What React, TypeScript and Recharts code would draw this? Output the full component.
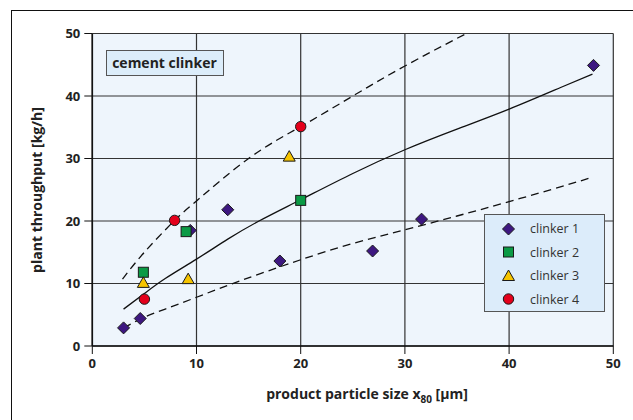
import {
  CartesianGrid, ComposedChart, Label, Line, Scatter, XAxis, YAxis,
} from 'recharts'

// measured points
const clinker1X = [3, 4.6, 9.4, 13, 18, 26.9, 31.6, 48.1]
const clinker1Y = [2.9, 4.4, 18.5, 21.8, 13.6, 15.2, 20.3, 44.9]
const clinker2X = [4.9, 9, 20]
const clinker2Y = [11.8, 18.3, 23.3]
const clinker3X = [4.9, 9.2, 18.9]
const clinker3Y = [10.1, 10.7, 30.3]
const clinker4X = [5, 7.9, 20]
const clinker4Y = [7.5, 20.1, 35.1]

// fitted curves
const meanX = [3, 5, 7, 10, 13, 16, 20, 25, 30, 35, 40, 45, 48]
const meanY = [5.9, 8.4, 10.8, 13.9, 17.1, 20.0, 23.4, 27.6, 31.4, 34.7, 37.9, 41.4, 43.5]
const upperX = [2.9, 5, 7.9, 10, 15, 20, 25, 30, 35.9]
const upperY = [10.7, 15, 20.1, 23.2, 30.0, 35.1, 40.0, 44.8, 50]
const lowerX = [3, 5, 7, 10, 13, 16, 20, 25, 30, 35, 40, 45, 47.8]
const lowerY = [2.9, 4.6, 5.9, 7.8, 9.7, 11.5, 13.8, 16.4, 18.6, 20.8, 23.1, 25.5, 26.9]

const ticks = [0, 10, 20, 30, 40, 50]
const seriesNames = ['clinker 1', 'clinker 2', 'clinker 3', 'clinker 4']

const zip = (xs: number[], ys: number[]) => xs.map((x, i) => ({ x, y: ys[i] }))

const FONT = '"Open Sans", "Noto Sans", sans-serif'

const COLORS: Record<string, string> = {
  diamond: '#3d1780',
  square: '#0b9a45',
  triangle: '#f6c400',
  circle: '#e4001b',
}

function Symbol({ kind, cx, cy }: { kind: string; cx: number; cy: number }) {
  const fill = COLORS[kind]
  const st = { fill, stroke: '#1a1a1a', strokeWidth: 1 }
  if (kind === 'diamond') {
    const r = 6
    return <polygon points={`${cx},${cy - r} ${cx + r},${cy} ${cx},${cy + r} ${cx - r},${cy}`} {...st} />
  }
  if (kind === 'square') return <rect x={cx - 5} y={cy - 5} width={10} height={10} {...st} />
  if (kind === 'triangle') {
    return <polygon points={`${cx},${cy - 6} ${cx + 6},${cy + 4.5} ${cx - 6},${cy + 4.5}`} {...st} />
  }
  return <circle cx={cx} cy={cy} r={5.2} {...st} />
}

const shapeOf = (kind: string) => (p: any) => <Symbol kind={kind} cx={p.cx} cy={p.cy} />

const kinds = ['diamond', 'square', 'triangle', 'circle']

function LegendBox() {
  return (
    <div style={{
      position: 'absolute', left: 484, top: 214, width: 121, height: 98,
      background: '#dcecfa', border: '1px solid #555',
      boxSizing: 'border-box', paddingTop: 2,
    }}>
      {seriesNames.map((n, i) => (
        <div key={n} style={{ display: 'flex', alignItems: 'center', height: 23.5 }}>
          <svg width={45} height={20}>
            <Symbol kind={kinds[i]} cx={23.5} cy={10} />
          </svg>
          <span style={{ fontFamily: FONT, fontSize: 12.5, color: '#333' }}>{n}</span>
        </div>
      ))}
    </div>
  )
}

export default function App() {
  return (
    <div style={{ position: 'absolute', left: 0, top: 0, width: 633, height: 420, overflow: 'hidden', background: '#fff' }}>
      <div style={{
        position: 'absolute', left: 10.5, top: 9.5, width: 700, height: 500,
        border: '1.5px solid #111',
      }} />
      <ComposedChart
        width={633} height={420}
        margin={{ top: 33.5, right: 19.7, left: 32.3, bottom: 0 }}
        style={{ position: 'absolute', left: 0, top: 0 }}
      >
        <CartesianGrid stroke="#333" strokeWidth={1.2} fill="#eef5fc" fillOpacity={1} />
        <XAxis
          type="number" dataKey="x" domain={[0, 50]} ticks={ticks}
          height={74} tickSize={8} tickMargin={5} allowDataOverflow
          axisLine={{ stroke: '#111', strokeWidth: 1.6 }} tickLine={{ stroke: '#111' }}
          tick={{ fontFamily: FONT, fontSize: 13, fontWeight: 700, fill: '#222' }}
        >
          <Label content={() => (
            <text x={367} y={399} textAnchor="middle" fontFamily={FONT} fontSize={14} fontWeight={700} fill="#222">
              product particle size x<tspan fontSize={10} dy={4}>80</tspan><tspan dy={-4}> [µm]</tspan>
            </text>
          )} />
        </XAxis>
        <YAxis
          type="number" dataKey="y" domain={[0, 50]} ticks={ticks}
          width={60} tickSize={8} tickMargin={4} allowDataOverflow
          axisLine={{ stroke: '#111', strokeWidth: 1.6 }} tickLine={{ stroke: '#111' }}
          tick={{ fontFamily: FONT, fontSize: 13, fontWeight: 700, fill: '#222' }}
        >
          <Label content={() => (
            <text x={42} y={190} transform="rotate(-90 42 190)" textAnchor="middle"
              fontFamily={FONT} fontSize={14} fontWeight={700} fill="#222">
              plant throughput [kg/h]
            </text>
          )} />
        </YAxis>
        <Line data={zip(upperX, upperY)} dataKey="y" type="natural" stroke="#111" strokeWidth={1.3}
          strokeDasharray="8 5" dot={false} activeDot={false} isAnimationActive={false} legendType="none" />
        <Line data={zip(meanX, meanY)} dataKey="y" type="natural" stroke="#111" strokeWidth={1.3}
          dot={false} activeDot={false} isAnimationActive={false} legendType="none" />
        <Line data={zip(lowerX, lowerY)} dataKey="y" type="natural" stroke="#111" strokeWidth={1.3}
          strokeDasharray="8 5" dot={false} activeDot={false} isAnimationActive={false} legendType="none" />
        <Scatter name={seriesNames[0]} data={zip(clinker1X, clinker1Y)} dataKey="y" shape={shapeOf('diamond')} isAnimationActive={false} />
        <Scatter name={seriesNames[1]} data={zip(clinker2X, clinker2Y)} dataKey="y" shape={shapeOf('square')} isAnimationActive={false} />
        <Scatter name={seriesNames[2]} data={zip(clinker3X, clinker3Y)} dataKey="y" shape={shapeOf('triangle')} isAnimationActive={false} />
        <Scatter name={seriesNames[3]} data={zip(clinker4X, clinker4Y)} dataKey="y" shape={shapeOf('circle')} isAnimationActive={false} />
      </ComposedChart>
      <LegendBox />
      <div style={{
        position: 'absolute', left: 105.5, top: 49.5, width: 118, height: 26,
        background: '#dcedfa', border: '1.5px solid #555', boxSizing: 'border-box',
        fontFamily: FONT, fontSize: 14, fontWeight: 700, color: '#222',
        display: 'flex', alignItems: 'center', justifyContent: 'center',
      }}>cement clinker</div>
    </div>
  )
}
